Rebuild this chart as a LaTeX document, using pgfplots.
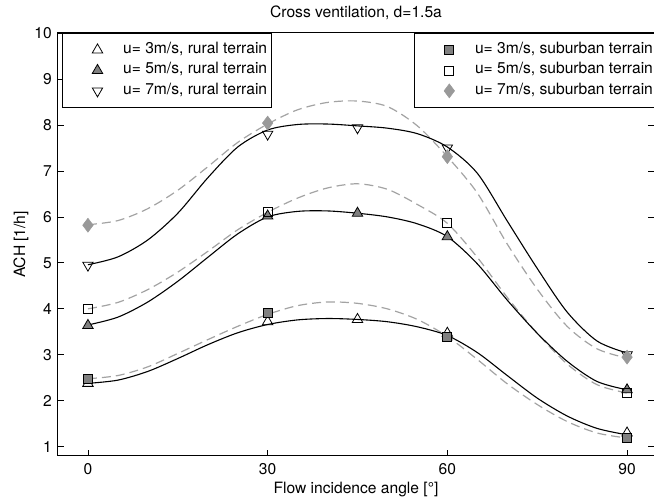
\documentclass[border=0pt]{standalone}
\usepackage{fontspec}
\setmainfont{TeX Gyre Heros}
\usepackage{pgfplots}
\pgfplotsset{compat=1.18}
\definecolor{markgray}{gray}{0.5}
\definecolor{dashgray}{gray}{0.64}
\definecolor{diagray}{gray}{0.6}
\newcommand{\fs}{\fontsize{15.6}{18}\selectfont}

\pgfplotsset{
  base/.style={
    scale only axis, width=596pt, height=423pt,
    xmin=-5, xmax=94.5, ymin=0.8, ymax=10,
  },
  leg/.style={
    legend image code/.code={\path (0pt,0pt) (56pt,0pt); \draw[##1] plot coordinates {(30.7pt,0pt)};},
    legend cell align=left,
    legend style={anchor=north west, draw=black, line width=0.8pt, fill=white,
      inner xsep=4pt, inner ysep=9pt, row sep=5.5pt, font=\fs,
      nodes={inner sep=0pt, text height=11pt, text depth=4pt}},
  },
  curve/.style={line width=1.1pt, smooth, forget plot},
  dcurve/.style={dashgray, line width=1.2pt, dash pattern=on 9pt off 5pt, smooth, forget plot},
}

\begin{document}
\begin{tikzpicture}
\begin{axis}[base, leg, name=ax,
  xtick={0,30,60,90}, ytick={1,2,...,10},
  tick align=inside, tick pos=both, major tick length=6pt,
  axis line style={line width=1pt}, major tick style={line width=0.8pt, black},
  /pgf/number format/assume math mode=true,
  ticklabel style={font=\fs},
  xticklabel style={anchor=base, yshift=-19pt},
  yticklabel style={anchor=east, inner sep=0pt, xshift=-6pt},
  title={Cross ventilation, d=1.5a},
  title style={font=\fs, at={(0.5,1)}, anchor=base, yshift=9.7pt},
  xlabel={Flow incidence angle [°]},
  xlabel style={font=\fs, at={(0.5,0)}, anchor=base, yshift=-37.5pt},
  ylabel={ACH [1/h]},
  ylabel style={font=\fs, at={(-0.062,0.5)}, anchor=center},
  legend style={at={(0.0067,1)}},
]
% fitted curves, suburban (dashed)
\addplot[dcurve] coordinates {
 (0,2.48) (5,2.55) (10,2.74) (15,3.03) (20,3.33) (25,3.62) (30,3.88) (35,4.07) (40,4.15) (45,4.12)
 (50,4.00) (55,3.77) (60,3.40) (65,2.90) (70,2.37) (75,1.92) (80,1.55) (85,1.30) (90,1.19)};
\addplot[dcurve] coordinates {
 (0,4.00) (5,4.14) (10,4.42) (15,4.80) (20,5.25) (25,5.72) (30,6.10) (35,6.41) (40,6.63) (45,6.72)
 (50,6.60) (55,6.27) (60,5.86) (65,5.12) (70,4.25) (75,3.47) (80,2.80) (85,2.35) (90,2.17)};
\addplot[dcurve] coordinates {
 (0,5.83) (5,5.92) (10,6.18) (15,6.58) (20,7.09) (25,7.62) (30,8.02) (35,8.33) (40,8.49) (45,8.52)
 (50,8.40) (55,7.98) (60,7.31) (65,6.52) (70,5.41) (75,4.43) (80,3.62) (85,3.13) (90,2.93)};
% fitted curves, rural (solid)
\addplot[black, curve] coordinates {
 (0,2.38) (5,2.45) (10,2.64) (15,2.92) (20,3.22) (25,3.48) (30,3.66) (35,3.76) (40,3.79) (45,3.77)
 (50,3.72) (55,3.61) (60,3.42) (65,3.05) (70,2.55) (75,2.06) (80,1.67) (85,1.40) (90,1.26)};
\addplot[black, curve] coordinates {
 (0,3.65) (5,3.82) (10,4.15) (15,4.60) (20,5.12) (25,5.63) (30,6.00) (35,6.12) (40,6.13) (45,6.08)
 (50,6.00) (55,5.85) (60,5.57) (65,4.98) (70,4.19) (75,3.47) (80,2.86) (85,2.42) (90,2.24)};
\addplot[black, curve] coordinates {
 (0,4.96) (5,5.13) (10,5.50) (15,6.08) (20,6.85) (25,7.52) (30,7.89) (35,8.01) (40,8.02) (45,7.98)
 (50,7.93) (55,7.81) (60,7.52) (65,6.95) (70,5.91) (75,4.88) (80,3.93) (85,3.30) (90,3.04)};
% measured points, rural
\addplot[only marks, mark=triangle, mark size=6pt, mark options={draw=black, fill=white, line width=0.8pt}] coordinates {
 (0,2.38) (30,3.72) (45,3.77) (60,3.47) (90,1.30)};
\addlegendentry{u= 3m/s, rural terrain}
\addplot[only marks, mark=triangle*, mark size=6pt, mark options={draw=black, fill=markgray, line width=0.8pt}] coordinates {
 (0,3.64) (30,6.02) (45,6.08) (60,5.57) (90,2.24)};
\addlegendentry{u= 5m/s, rural terrain}
\addplot[only marks, mark=triangle, mark size=6pt, mark options={draw=black, fill=white, line width=0.8pt, rotate=180}] coordinates {
 (0,4.95) (30,7.80) (45,7.94) (60,7.50) (90,3.00)};
\addlegendentry{u= 7m/s, rural terrain}
\end{axis}

\begin{axis}[base, leg, hide axis,
  legend style={at={(0.597,1)}},
]
\addplot[only marks, mark=square*, mark size=4.5pt, mark options={draw=black, fill=markgray, line width=0.8pt}] coordinates {
 (0,2.47) (30,3.92) (60,3.40) (90,1.19)};
\addlegendentry{u= 3m/s, suburban terrain}
\addplot[only marks, mark=square, mark size=4.5pt, mark options={draw=black, fill=white, line width=0.8pt}] coordinates {
 (0,4.00) (30,6.10) (60,5.86) (90,2.17)};
\addlegendentry{u= 5m/s, suburban terrain}
\addplot[only marks, mark=diamond*, mark size=7pt, mark options={draw=diagray, fill=diagray, line width=0.5pt}] coordinates {
 (0,5.82) (30,8.04) (60,7.31) (90,2.95)};
\addlegendentry{u= 7m/s, suburban terrain}
\end{axis}

\pgfresetboundingbox
\path[use as bounding box] ([xshift=-58pt,yshift=-42pt]ax.south west) rectangle ([yshift=33pt]ax.north east);
\end{tikzpicture}
\end{document}
